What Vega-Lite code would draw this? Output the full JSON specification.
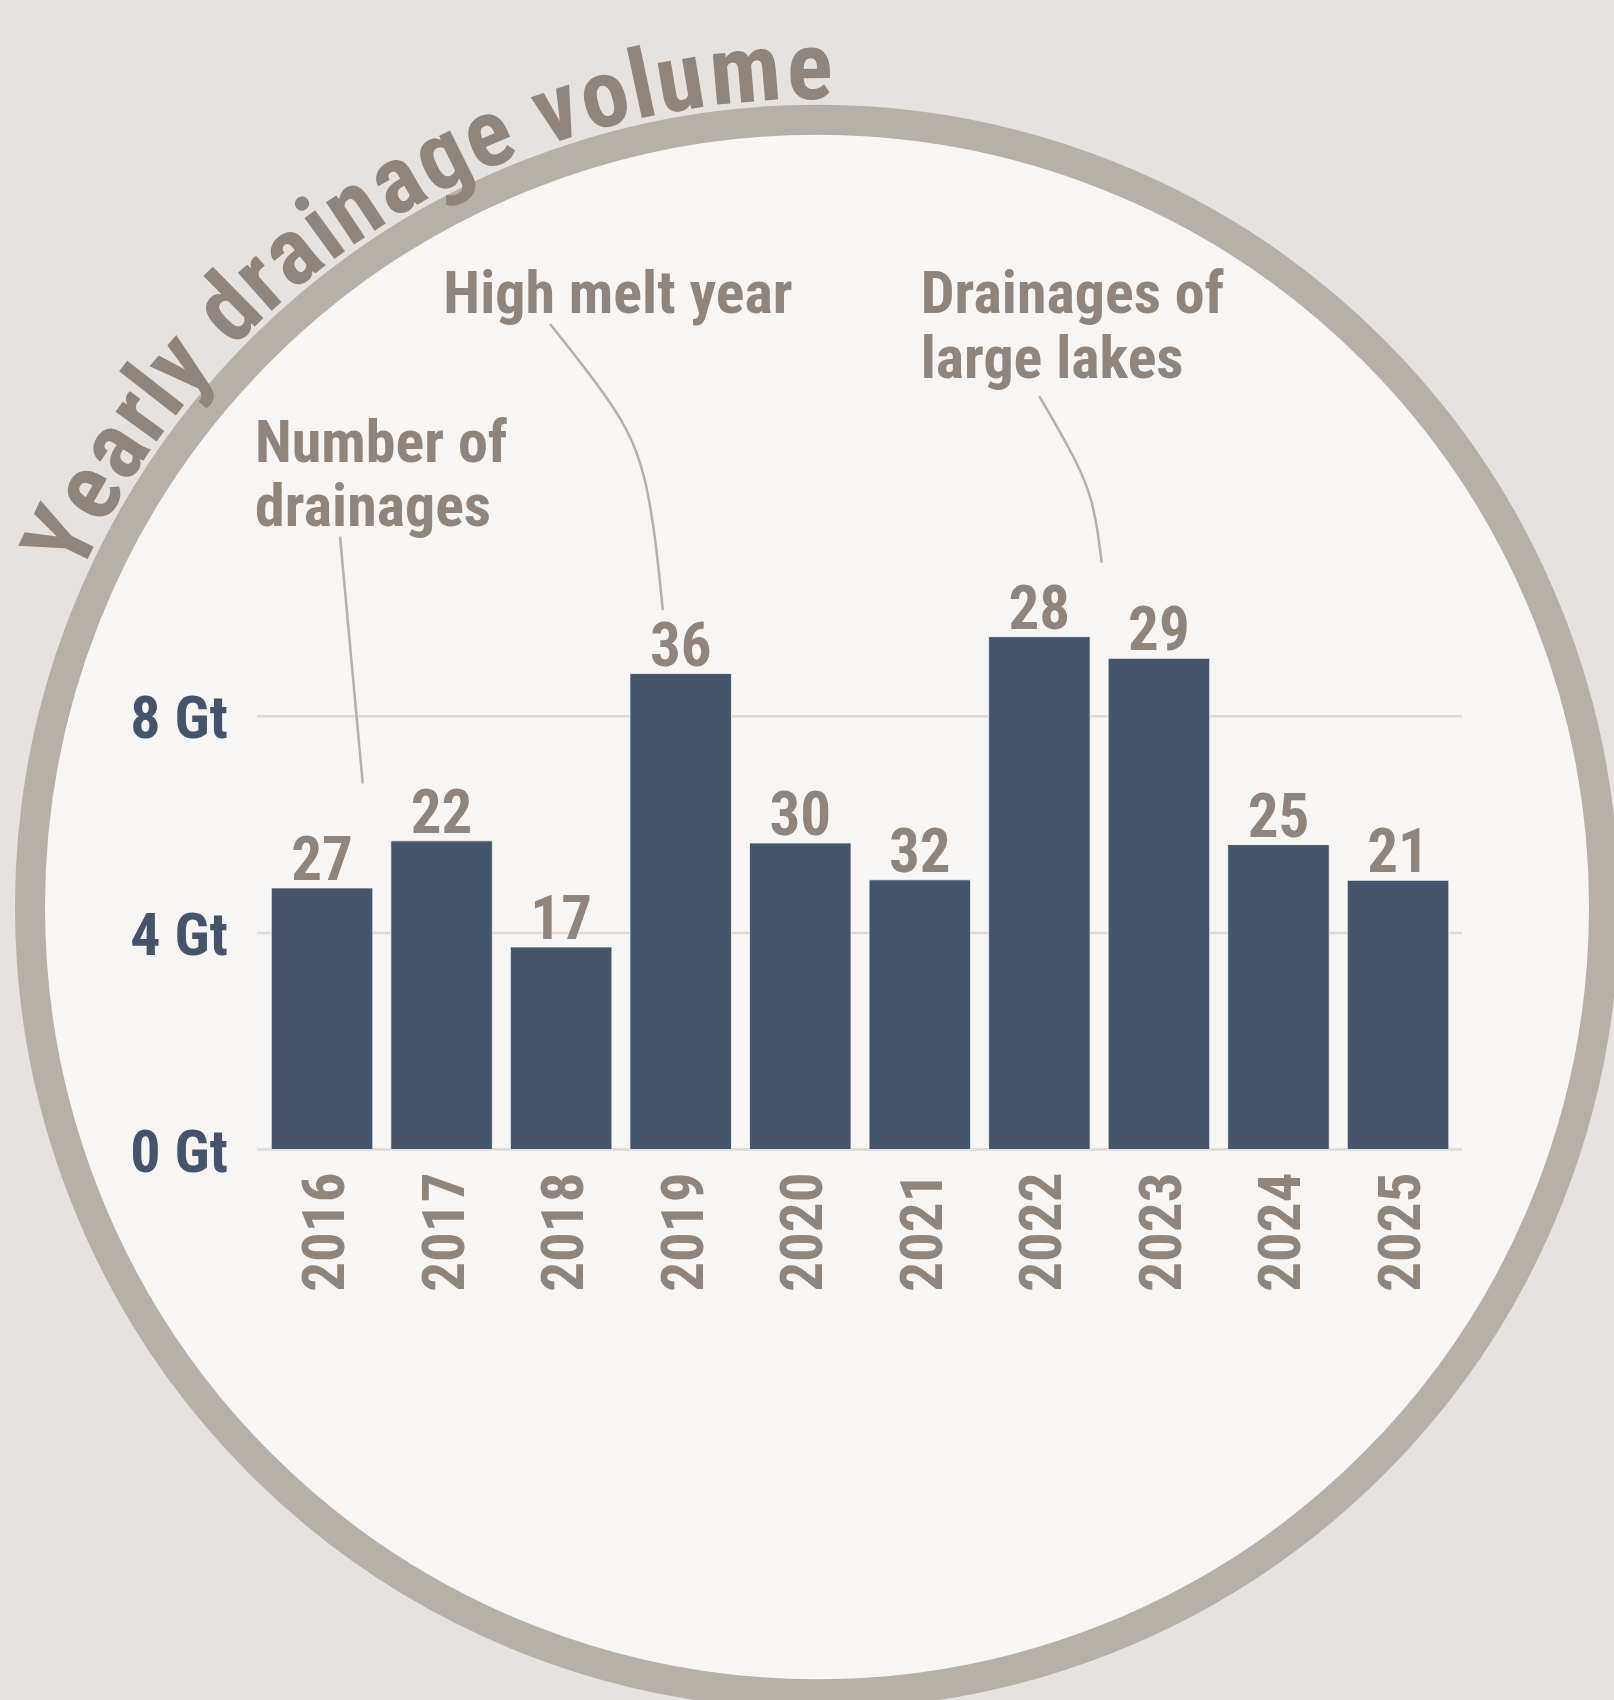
{
  "$schema": "https://vega.github.io/schema/vega-lite/v6.json",
  "width": 1205,
  "height": 541.5,
  "autosize": {"type": "none"},
  "padding": {"left": 257, "top": 608, "right": 152, "bottom": 550.5},
  "background": "#e6e2df",
  "config": {
    "view": {"stroke": null},
    "font": "Roboto Condensed, Noto Sans Condensed, Open Sans Condensed, Roboto, sans-serif"
  },
  "datasets": {
    "bars": [
      {"year": 2016, "volume": 4.83, "count": 27},
      {"year": 2017, "volume": 5.70, "count": 22},
      {"year": 2018, "volume": 3.74, "count": 17},
      {"year": 2019, "volume": 8.79, "count": 36},
      {"year": 2020, "volume": 5.66, "count": 30},
      {"year": 2021, "volume": 4.98, "count": 32},
      {"year": 2022, "volume": 9.47, "count": 28},
      {"year": 2023, "volume": 9.07, "count": 29},
      {"year": 2024, "volume": 5.63, "count": 25},
      {"year": 2025, "volume": 4.97, "count": 21}
    ],
    "grid": [{"gt": 0, "label": "0 Gt"}, {"gt": 4, "label": "4 Gt"}, {"gt": 8, "label": "8 Gt"}],
    "title": [
      {"i": 0, "c": "Y"}, {"i": 1, "c": "e"}, {"i": 2, "c": "a"}, {"i": 3, "c": "r"},
      {"i": 4, "c": "l"}, {"i": 5, "c": "y"}, {"i": 6, "c": " "}, {"i": 7, "c": "d"},
      {"i": 8, "c": "r"}, {"i": 9, "c": "a"}, {"i": 10, "c": "i"}, {"i": 11, "c": "n"},
      {"i": 12, "c": "a"}, {"i": 13, "c": "g"}, {"i": 14, "c": "e"}, {"i": 15, "c": " "},
      {"i": 16, "c": "v"}, {"i": 17, "c": "o"}, {"i": 18, "c": "l"}, {"i": 19, "c": "u"},
      {"i": 20, "c": "m"}, {"i": 21, "c": "e"}
    ],
    "leaders": [
      {"id": "a", "lx": 2016.1506, "ly": 11.317},
      {"id": "a", "lx": 2016.3404, "ly": 6.763},
      {"id": "b", "lx": 2017.907, "ly": 15.244},
      {"id": "b", "lx": 2018.325, "ly": 14.081},
      {"id": "b", "lx": 2018.560, "ly": 13.300},
      {"id": "b", "lx": 2018.700, "ly": 12.500},
      {"id": "b", "lx": 2018.790, "ly": 11.300},
      {"id": "b", "lx": 2018.850, "ly": 9.963},
      {"id": "c", "lx": 2021.999, "ly": 13.915},
      {"id": "c", "lx": 2022.330, "ly": 12.650},
      {"id": "c", "lx": 2022.440, "ly": 12.000},
      {"id": "c", "lx": 2022.490, "ly": 11.400},
      {"id": "c", "lx": 2022.521, "ly": 10.837}
    ]
  },
  "layer": [
    {
      "data": {"values": [{"item": "frame"}]},
      "mark": {"type": "point", "shape": "circle", "filled": true, "size": 2477476, "fill": "#f7f6f4", "stroke": "#b7b0a9", "strokeWidth": 30, "opacity": 1, "fillOpacity": 1, "strokeOpacity": 1},
      "encoding": {
        "x": {"datum": 2020.14, "type": "quantitative", "scale": {"domain": [2015.456, 2025.535], "nice": false, "zero": false, "padding": 0}, "axis": null},
        "y": {"datum": 4.478, "type": "quantitative", "scale": {"domain": [0, 10], "nice": false, "zero": true, "padding": 0}, "axis": null}
      }
    },
    {
      "data": {"name": "grid"},
      "mark": {"type": "rule", "color": "#dedad6", "strokeWidth": 2.5},
      "encoding": {
        "y": {"field": "gt", "type": "quantitative", "scale": {"domain": [0, 10], "nice": false, "zero": true, "padding": 0}, "axis": null}
      }
    },
    {
      "data": {"name": "grid"},
      "mark": {"type": "text", "fontSize": 60, "fontWeight": "bold", "color": "#46546b", "align": "right", "baseline": "middle", "dx": -29, "dy": 4},
      "encoding": {
        "x": {"datum": 2015.456, "type": "quantitative", "scale": {"domain": [2015.456, 2025.535], "nice": false, "zero": false, "padding": 0}, "axis": null},
        "y": {"field": "gt", "type": "quantitative", "scale": {"domain": [0, 10], "nice": false, "zero": true, "padding": 0}, "axis": null},
        "text": {"field": "label"}
      }
    },
    {
      "data": {"name": "bars"},
      "mark": {"type": "bar", "width": 101.5, "color": "#46556b", "stroke": "#ffffff", "strokeWidth": 1, "strokeOpacity": 0.7},
      "encoding": {
        "x": {"field": "year", "type": "quantitative", "scale": {"domain": [2015.456, 2025.535], "nice": false, "zero": false, "padding": 0}, "axis": null},
        "y": {"field": "volume", "type": "quantitative", "scale": {"domain": [0, 10], "nice": false, "zero": true, "padding": 0}, "axis": null}
      }
    },
    {
      "data": {"name": "bars"},
      "mark": {"type": "text", "fontSize": 61, "fontWeight": "bold", "color": "#8f857c", "baseline": "alphabetic", "align": "center", "dy": -8},
      "encoding": {
        "x": {"field": "year", "type": "quantitative", "scale": {"domain": [2015.456, 2025.535], "nice": false, "zero": false, "padding": 0}, "axis": null},
        "y": {"field": "volume", "type": "quantitative", "scale": {"domain": [0, 10], "nice": false, "zero": true, "padding": 0}, "axis": null},
        "text": {"field": "count", "type": "quantitative"}
      }
    },
    {
      "data": {"name": "bars"},
      "mark": {"type": "text", "fontSize": 59, "fontWeight": "bold", "color": "#8f857c", "angle": 270, "align": "right", "baseline": "middle", "dx": -23, "dy": 4},
      "encoding": {
        "x": {"field": "year", "type": "quantitative", "scale": {"domain": [2015.456, 2025.535], "nice": false, "zero": false, "padding": 0}, "axis": null},
        "y": {"datum": 0, "type": "quantitative", "scale": {"domain": [0, 10], "nice": false, "zero": true, "padding": 0}, "axis": null},
        "text": {"field": "year", "type": "quantitative", "format": "d"}
      }
    },
    {
      "data": {"name": "leaders"},
      "mark": {"type": "line", "color": "#b7b0a9", "strokeWidth": 2.5, "interpolate": "basis"},
      "encoding": {
        "x": {"field": "lx", "type": "quantitative", "scale": {"domain": [2015.456, 2025.535], "nice": false, "zero": false, "padding": 0}, "axis": null},
        "y": {"field": "ly", "type": "quantitative", "scale": {"domain": [0, 10], "nice": false, "zero": true, "padding": 0}, "axis": null},
        "detail": {"field": "id"}
      }
    },
    {
      "data": {"values": [{"label": ["Number of", "drainages"]}]},
      "mark": {"type": "text", "fontSize": 60, "fontWeight": "bold", "color": "#8f857c", "align": "left", "baseline": "alphabetic", "lineHeight": 64.3},
      "encoding": {
        "x": {"datum": 2015.4396, "type": "quantitative", "scale": {"domain": [2015.456, 2025.535], "nice": false, "zero": false, "padding": 0}, "axis": null},
        "y": {"datum": 12.702, "type": "quantitative", "scale": {"domain": [0, 10], "nice": false, "zero": true, "padding": 0}, "axis": null},
        "text": {"field": "label"}
      }
    },
    {
      "data": {"values": [{"label": "High melt year"}]},
      "mark": {"type": "text", "fontSize": 60, "fontWeight": "bold", "color": "#8f857c", "align": "left", "baseline": "alphabetic"},
      "encoding": {
        "x": {"datum": 2017.0146, "type": "quantitative", "scale": {"domain": [2015.456, 2025.535], "nice": false, "zero": false, "padding": 0}, "axis": null},
        "y": {"datum": 15.442, "type": "quantitative", "scale": {"domain": [0, 10], "nice": false, "zero": true, "padding": 0}, "axis": null},
        "text": {"field": "label"}
      }
    },
    {
      "data": {"values": [{"label": ["Drainages of", "large lakes"]}]},
      "mark": {"type": "text", "fontSize": 60, "fontWeight": "bold", "color": "#8f857c", "align": "left", "baseline": "alphabetic", "lineHeight": 64.4},
      "encoding": {
        "x": {"datum": 2021.0075, "type": "quantitative", "scale": {"domain": [2015.456, 2025.535], "nice": false, "zero": false, "padding": 0}, "axis": null},
        "y": {"datum": 15.442, "type": "quantitative", "scale": {"domain": [0, 10], "nice": false, "zero": true, "padding": 0}, "axis": null},
        "text": {"field": "label"}
      }
    },
    {
      "data": {"name": "title"},
      "mark": {"type": "text", "fontSize": 96, "fontWeight": "bold", "color": "#8f857c", "align": "center", "baseline": "alphabetic", "radius": 808},
      "encoding": {
        "x": {"datum": 2020.14, "type": "quantitative", "scale": {"domain": [2015.456, 2025.535], "nice": false, "zero": false, "padding": 0}, "axis": null},
        "y": {"datum": 4.478, "type": "quantitative", "scale": {"domain": [0, 10], "nice": false, "zero": true, "padding": 0}, "axis": null},
        "theta": {"field": "i", "type": "quantitative", "stack": false,
          "scale": {"domain": [0, 1, 2, 3, 4, 5, 6, 7, 8, 9, 10, 11, 12, 13, 14, 15, 16, 17, 18, 19, 20, 21],
            "range": [-1.11701, -1.05275, -0.99307, -0.94317, -0.90842, -0.86596, -0.82372, -0.77791, -0.72708, -0.67719, -0.63203, -0.58629, -0.52538, -0.46415, -0.40354, -0.35927, -0.31636, -0.25669, -0.21019, -0.16443, -0.08601, -0.00881],
            "zero": false, "nice": false}},
        "angle": {"field": "i", "type": "quantitative",
          "scale": {"domain": [0, 1, 2, 3, 4, 5, 6, 7, 8, 9, 10, 11, 12, 13, 14, 15, 16, 17, 18, 19, 20, 21],
            "range": [-64.0, -60.318, -56.899, -54.04, -52.049, -49.616, -47.196, -44.571, -41.659, -38.8, -36.213, -33.592, -30.102, -26.594, -23.121, -20.585, -18.126, -14.707, -12.043, -9.421, -4.928, -0.505],
            "zero": false, "nice": false}},
        "text": {"field": "c"}
      }
    }
  ]
}
